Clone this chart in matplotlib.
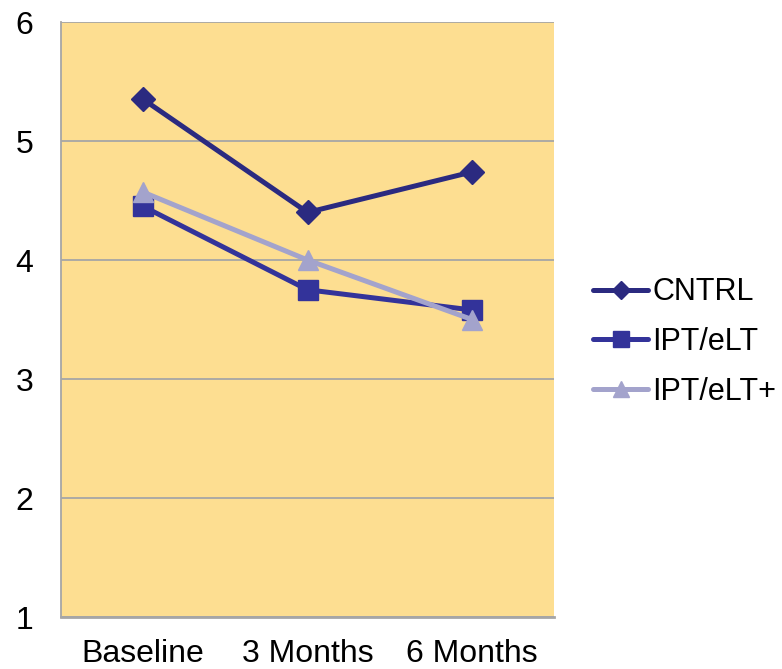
import matplotlib
matplotlib.use("Agg")
import matplotlib.pyplot as plt

plt.rcParams["font.family"] = ["Liberation Sans", "DejaVu Sans"]

timepoints = ["Baseline", "3 Months", "6 Months"]
series_names = ["CNTRL", "IPT/eLT", "IPT/eLT+"]
cntrl = [5.35, 4.40, 4.74]
ipt_elt = [4.45, 3.75, 3.58]
ipt_elt_plus = [4.57, 4.00, 3.50]
y_ticks = [1, 2, 3, 4, 5, 6]

fig = plt.figure(figsize=(7.82, 6.69), dpi=100)
ax = fig.add_axes([0.078, 0.0777, 0.6306, 0.8894])
ax.set_facecolor("#FDDE91")

x = range(len(timepoints))
styles = [
    (cntrl, "#2B2A80", "D", 12),
    (ipt_elt, "#33339A", "s", 15),
    (ipt_elt_plus, "#A3A3CC", "^", 15),
]
for (vals, col, mk, ms), name in zip(styles, series_names):
    ax.plot(x, vals, color=col, lw=3.6, marker=mk, ms=ms, label=name,
            solid_capstyle="round")

ax.set_xlim(-0.5, 2.5)
ax.set_ylim(1, 6)
ax.set_yticks(y_ticks)
ax.set_xticks(list(x))
ax.set_xticklabels(timepoints)
ax.yaxis.grid(True, color="#A6A6A6", lw=1.3)
ax.set_axisbelow(True)
ax.tick_params(axis="both", length=0, labelsize=23)
ax.tick_params(axis="y", pad=20)
ax.tick_params(axis="x", pad=16)

for s in ("top", "right"):
    ax.spines[s].set_visible(False)
ax.spines["left"].set_color("#A6A6A6")
ax.spines["left"].set_linewidth(1.3)
ax.spines["bottom"].set_color("#A6A6A6")
ax.spines["bottom"].set_linewidth(2)

ax.legend(loc="center left", bbox_to_anchor=(1.079, 0.462), frameon=False,
          fontsize=22, handlelength=1.8, handletextpad=0.13, labelspacing=0.65,
          borderpad=0, borderaxespad=0, markerscale=0.75)

fig.savefig("out.png", dpi=100)
